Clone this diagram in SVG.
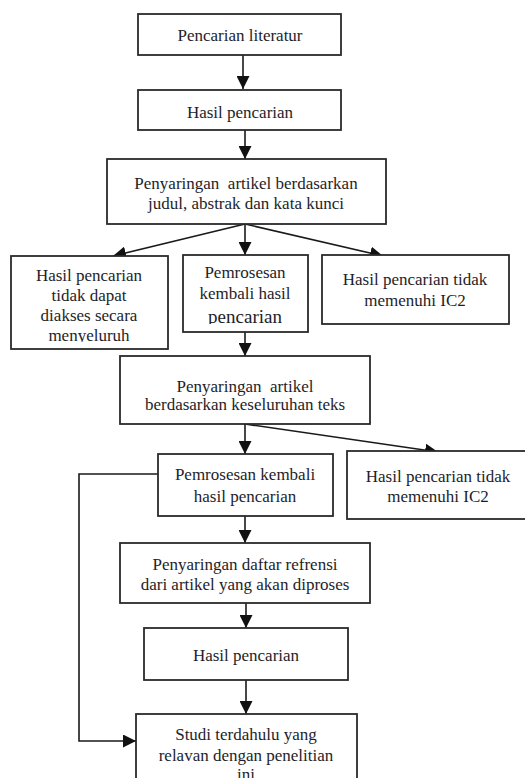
<svg xmlns="http://www.w3.org/2000/svg" width="525" height="778" viewBox="0 0 525 778">
<style>
.box{fill:#fff;stroke:#2a2a2a;stroke-width:1.8}
.t{font-size:17px;fill:#1e1e2a;text-anchor:middle;white-space:pre}
.c{fill:none;stroke:#1a1a1a;stroke-width:1.6}
</style>
<defs>
<marker id="ah" markerUnits="userSpaceOnUse" markerWidth="13" markerHeight="13" refX="13" refY="6.5" orient="auto">
<path d="M0,0 L13,6.5 L0,13 z" fill="#111"/>
</marker>
<clipPath id="clip4"><rect x="11" y="256" width="157" height="86"/></clipPath>
<clipPath id="clip5"><rect x="183" y="255" width="125" height="69"/></clipPath>
</defs>
<rect width="525" height="778" fill="#fff"/>
<g id="connectors">
<line class="c" x1="243" y1="55" x2="243" y2="89" marker-end="url(#ah)"/>
<line class="c" x1="245" y1="130" x2="245" y2="159" marker-end="url(#ah)"/>
<line class="c" x1="245" y1="224" x2="113" y2="256" marker-end="url(#ah)"/>
<line class="c" x1="245" y1="224" x2="245" y2="255" marker-end="url(#ah)"/>
<line class="c" x1="245" y1="224" x2="383" y2="256" marker-end="url(#ah)"/>
<line class="c" x1="245" y1="332" x2="245" y2="356" marker-end="url(#ah)"/>
<line class="c" x1="245" y1="424" x2="245" y2="454" marker-end="url(#ah)"/>
<line class="c" x1="245" y1="424" x2="438" y2="452" marker-end="url(#ah)"/>
<line class="c" x1="245" y1="516" x2="245" y2="543" marker-end="url(#ah)"/>
<line class="c" x1="246" y1="603" x2="246" y2="628" marker-end="url(#ah)"/>
<line class="c" x1="246" y1="680" x2="246" y2="714" marker-end="url(#ah)"/>
<polyline class="c" points="158,474 79,474 79,741 136,741" marker-end="url(#ah)"/>
</g>
<g font-family="Liberation Serif, DejaVu Serif, serif">
<g id="n1"><rect class="box" x="138" y="14" width="203" height="41"/><text class="t" x="240" y="41">Pencarian literatur</text></g>
<g id="n2"><rect class="box" x="138" y="90" width="203" height="40"/><text class="t" x="240" y="118">Hasil pencarian</text></g>
<g id="n3"><rect class="box" x="107" y="159" width="279" height="65"/><text class="t" x="246" y="189">Penyaringan  artikel berdasarkan</text><text class="t" x="246" y="209">judul, abstrak dan kata kunci</text></g>
<g id="n4"><rect class="box" x="11" y="256" width="157" height="93"/><text class="t" x="89" y="281">Hasil pencarian</text><text class="t" x="89" y="301">tidak dapat</text><text class="t" x="89" y="321">diakses secara</text><text class="t" x="89" y="341" clip-path="url(#clip4)">menyeluruh</text></g>
<g id="n5"><rect class="box" x="183" y="255" width="125" height="77"/><text class="t" x="245" y="278">Pemrosesan</text><text class="t" x="245" y="299">kembali hasil</text><text class="t" x="245" y="323" style="font-size:19px" clip-path="url(#clip5)">pencarian</text></g>
<g id="n6"><rect class="box" x="322" y="255" width="187" height="69"/><text class="t" x="415" y="285">Hasil pencarian tidak</text><text class="t" x="415" y="306">memenuhi IC2</text></g>
<g id="n7"><rect class="box" x="120" y="356" width="250" height="68"/><text class="t" x="245" y="392">Penyaringan  artikel</text><text class="t" x="245" y="410">berdasarkan keseluruhan teks</text></g>
<g id="n8"><rect class="box" x="158" y="454" width="175" height="62"/><text class="t" x="245" y="480">Pemrosesan kembali</text><text class="t" x="245" y="502">hasil pencarian</text></g>
<g id="n9"><rect class="box" x="347" y="451" width="190" height="68"/><text class="t" x="438" y="482">Hasil pencarian tidak</text><text class="t" x="438" y="502">memenuhi IC2</text></g>
<g id="n10"><rect class="box" x="120" y="543" width="250" height="60"/><text class="t" x="245" y="570">Penyaringan daftar refrensi</text><text class="t" x="245" y="590">dari artikel yang akan diproses</text></g>
<g id="n11"><rect class="box" x="144" y="628" width="204" height="52"/><text class="t" x="246" y="661">Hasil pencarian</text></g>
<g id="n12"><rect class="box" x="136" y="714" width="221" height="80"/><text class="t" x="246" y="740">Studi terdahulu yang</text><text class="t" x="246" y="761">relavan dengan penelitian</text><text class="t" x="246" y="780">ini</text></g>
</g>
</svg>
